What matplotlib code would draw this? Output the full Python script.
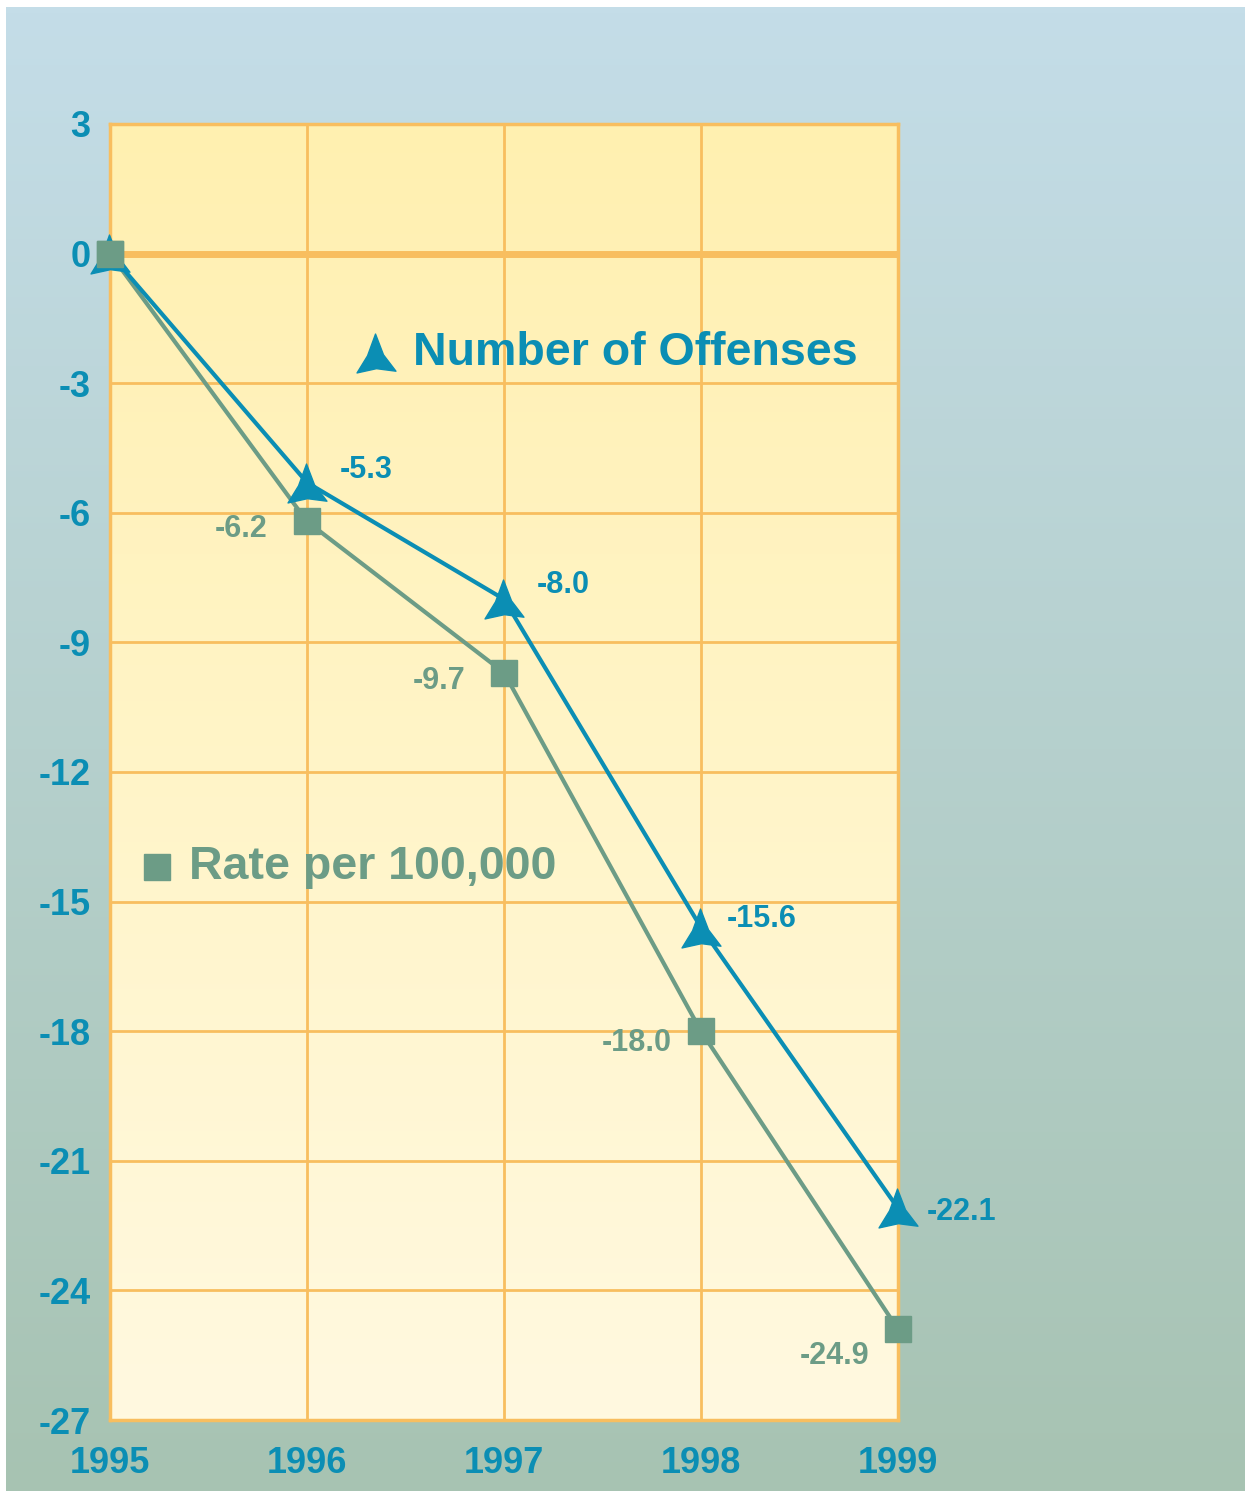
import numpy as np
import matplotlib.pyplot as plt
from matplotlib.path import Path

plt.rcParams["axes.unicode_minus"] = False

years = [1995, 1996, 1997, 1998, 1999]
offenses = [0.0, -5.3, -8.0, -15.6, -22.1]
rate = [0.0, -6.2, -9.7, -18.0, -24.9]
offense_labels = ["-5.3", "-8.0", "-15.6", "-22.1"]
rate_labels = ["-6.2", "-9.7", "-18.0", "-24.9"]
yticks = list(range(3, -28, -3))

BLUE = "#0B8EB4"
GREEN = "#6C9C86"
ORANGE = "#F8BE5F"
FONT = "Liberation Sans"

# arrowhead-like triangle marker
tri = Path([(-0.05, 1.0), (-0.46, -0.12), (-1.0, -1.0), (0.0, -0.78),
            (1.0, -0.91), (0.36, -0.07), (-0.05, 1.0)],
           [Path.MOVETO] + [Path.LINETO] * 5 + [Path.CLOSEPOLY])

fig = plt.figure(figsize=(12.45, 14.91), dpi=100, facecolor="white")

# background gradient panel
bg = fig.add_axes([6 / 1245, 0, 1 - 6 / 1245, 1 - 7 / 1491], zorder=-5)
top_c = np.array([196, 221, 232]) / 255
bot_c = np.array([167, 195, 178]) / 255
t = np.linspace(0, 1, 256)[:, None]
grad = (top_c * (1 - t) + bot_c * t)[:, None, :]
bg.imshow(grad, aspect="auto", extent=(0, 1, 0, 1))
bg.axis("off")

ax = fig.add_axes([110 / 1245, 1 - 1420 / 1491, 788 / 1245, 1296 / 1491])
ax.set_xlim(1995, 1999)
ax.set_ylim(-27, 3)

ptop = np.array([255, 240, 176]) / 255
pbot = np.array([255, 249, 224]) / 255
pgrad = (ptop * (1 - t) + pbot * t)[:, None, :]
ax.imshow(pgrad, aspect="auto", extent=(1995, 1999, -27, 3), zorder=0)

ax.set_xticks(years)
ax.set_yticks(yticks)
ax.grid(True, color=ORANGE, lw=2, zorder=1)
ax.axhline(0, color=ORANGE, lw=5, zorder=1)
for s in ax.spines.values():
    s.set_color(ORANGE)
    s.set_linewidth(2.5)
    s.set_zorder(1)
ax.tick_params(length=0, labelcolor=BLUE, labelsize=26)
ax.tick_params(axis="x", pad=19)
ax.tick_params(axis="y", pad=14)
for lab in ax.get_xticklabels() + ax.get_yticklabels():
    lab.set_fontweight("bold")
    lab.set_fontfamily(FONT)

ax.plot(years, rate, color=GREEN, lw=3, marker="s", ms=18.5, zorder=3, clip_on=False)
ax.plot(years, offenses, color=BLUE, lw=3, marker=tri, ms=28, zorder=4, clip_on=False)
# the 1995 square sits on top of the triangle
ax.plot(years[:1], rate[:1], color=GREEN, marker="s", ms=18.5, ls="none", zorder=6, clip_on=False)

off_offsets = [(33, 13), (33, 14), (26, 9), (29, -4)]
for x, y, s, (dx, dy) in zip(years[1:], offenses[1:], offense_labels, off_offsets):
    ax.annotate(s, (x, y), xytext=(dx * 0.72, dy * 0.72), textcoords="offset points",
                ha="left", va="center", color=BLUE, fontsize=22, fontweight="bold",
                family=FONT, zorder=5, annotation_clip=False)

rate_offsets = [(-39, -8), (-39, -8), (-29, -12), (-29, -27)]
for x, y, s, (dx, dy) in zip(years[1:], rate[1:], rate_labels, rate_offsets):
    ax.annotate(s, (x, y), xytext=(dx * 0.72, dy * 0.72), textcoords="offset points",
                ha="right", va="center", color=GREEN, fontsize=22, fontweight="bold",
                family=FONT, zorder=5, annotation_clip=False)

# in-plot legend
ax.plot([1996.35], [-2.3], marker=tri, ms=28, color=BLUE, ls="none", zorder=5)
ax.text(1996.54, -2.3, "Number of Offenses", color=BLUE, fontsize=33.5,
        fontweight="bold", family=FONT, va="center", ha="left", zorder=5)
ax.plot([1995.24], [-14.2], marker="s", ms=18.5, color=GREEN, ls="none", zorder=5)
ax.text(1995.40, -14.2, "Rate per 100,000", color=GREEN, fontsize=33.5,
        fontweight="bold", family=FONT, va="center", ha="left", zorder=5)

fig.savefig("out.png", dpi=100, facecolor=fig.get_facecolor())
